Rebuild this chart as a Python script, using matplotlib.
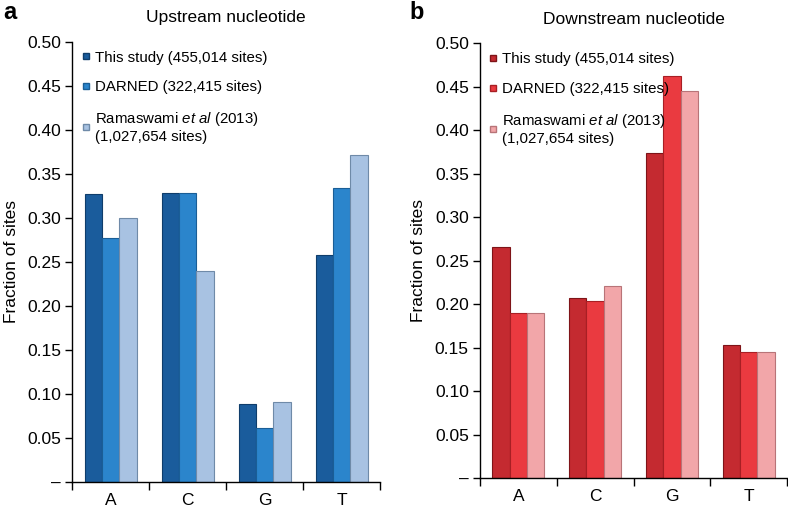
import matplotlib.pyplot as plt
from matplotlib.lines import Line2D

plt.rcParams['font.family'] = ['Liberation Sans', 'DejaVu Sans']
plt.rcParams['mathtext.fontset'] = 'custom'
plt.rcParams['mathtext.rm'] = 'Liberation Sans'
plt.rcParams['mathtext.it'] = 'Liberation Sans:italic'

bases = ['A', 'C', 'G', 'T']
series = ['This study (455,014 sites)', 'DARNED (322,415 sites)',
          'Ramaswami $\\it{et\\ al}$ (2013)\n(1,027,654 sites)']

# fraction of sites, upstream nucleotide
up_this = [0.327, 0.328, 0.088, 0.257]
up_darned = [0.277, 0.328, 0.061, 0.334]
up_rama = [0.300, 0.239, 0.090, 0.371]

# fraction of sites, downstream nucleotide
down_this = [0.266, 0.207, 0.374, 0.153]
down_darned = [0.190, 0.204, 0.462, 0.145]
down_rama = [0.190, 0.221, 0.445, 0.145]

yticks = [0, 0.05, 0.10, 0.15, 0.20, 0.25, 0.30, 0.35, 0.40, 0.45, 0.50]
ytick_labels = ['–'] + ['%.2f' % v for v in yticks[1:]]

blues = ['#1a5c9c', '#2b85cc', '#a8c2e2']
blue_edges = ['#0f3d6b', '#1a5e96', '#6f8aa8']
reds = ['#c42a30', '#ea3a40', '#f2a6a9']
red_edges = ['#7e1418', '#a81f24', '#b87478']

fig = plt.figure(figsize=(7.88, 5.07), dpi=100)
ax1 = fig.add_axes([0.0914, 0.050, 0.391, 0.868])
ax2 = fig.add_axes([0.609, 0.057, 0.390, 0.858])

w = 0.225
panels = [
    (ax1, [up_this, up_darned, up_rama], blues, blue_edges, 'Upstream nucleotide'),
    (ax2, [down_this, down_darned, down_rama], reds, red_edges, 'Downstream nucleotide'),
]

for ax, data, cols, edges, title in panels:
    for i, vals in enumerate(data):
        xs = [k + 0.5 + (i - 1) * w for k in range(len(bases))]
        ax.bar(xs, vals, width=w, color=cols[i], edgecolor=edges[i], linewidth=0.8)
    ax.set_xlim(0, 4)
    ax.set_ylim(0, 0.5)
    ax.set_yticks(yticks)
    ax.set_yticklabels(ytick_labels, fontsize=12.5)
    ax.set_xticks([0, 1, 2, 3, 4])
    ax.set_xticklabels([])
    ax.set_xticks([0.5, 1.5, 2.5, 3.5], minor=True)
    ax.set_xticklabels(bases, minor=True, fontsize=12.5)
    ax.tick_params(axis='x', which='major', direction='out', length=6, width=1)
    ax.tick_params(axis='x', which='minor', length=0, pad=8)
    ax.tick_params(axis='y', direction='out', length=5, width=1, pad=3)
    ax.spines['top'].set_visible(False)
    ax.spines['right'].set_visible(False)
    ax.spines['left'].set_linewidth(1)
    ax.spines['bottom'].set_linewidth(1)
    ax.set_ylabel('Fraction of sites', fontsize=12.5, labelpad=6)
    ax.set_title(title, fontsize=12.5, pad=14)
    handles = [Line2D([], [], marker='s', linestyle='', markersize=5,
                      markerfacecolor=cols[i], markeredgecolor=edges[i]) for i in range(3)]
    ax.legend(handles, series, loc='upper left', bbox_to_anchor=(0.0, 1.0),
              frameon=False, fontsize=10.8, handlelength=0.6, handletextpad=0.3,
              labelspacing=1.05, borderaxespad=0.2)

fig.text(0.004, 0.975, 'a', fontsize=17, fontweight='bold', va='center')
fig.text(0.52, 0.975, 'b', fontsize=17, fontweight='bold', va='center')

fig.savefig('out.png', dpi=100)
